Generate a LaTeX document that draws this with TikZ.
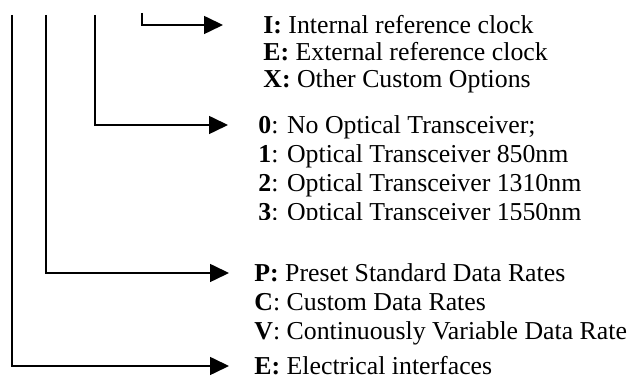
\documentclass[tikz,border=0pt]{standalone}
\usepackage{fontspec}
\setmainfont{Liberation Serif}
\usetikzlibrary{arrows.meta}

\tikzset{
  feed/.style={line width=0.8pt, -{Triangle[length=9.5pt,width=9pt]}},
  opt/.style={anchor=west, inner sep=0pt, text height=8.5pt, text depth=0pt,
              font=\fontsize{12.9}{15}\selectfont}
}

\begin{document}
\begin{tikzpicture}[x=0.5pt, y=-0.5pt]
  % Fix the size of the page
  \useasboundingbox (0,0) rectangle (636,383);

  % Define the tops of the lead lines
  \coordinate (T1) at (12,15);
  \coordinate (T2) at (46,15);
  \coordinate (T3) at (95,15);
  \coordinate (T4) at (142,13);

  % Reference clock options
  \node[opt] (clkI) at (263,25) {\textbf{I:} Internal reference clock};
  \node[opt] (clkE) at (263,52) {\textbf{E:} External reference clock};
  \node[opt] (clkX) at (263,79) {\textbf{X:} Other Custom Options};

  % Optical transceiver options (last line is cut off)
  \node[opt] (opt0) at (258,125) {\textbf{0}: No Optical Transceiver;};
  \node[opt] (opt1) at (258,154) {\textbf{1}: Optical Transceiver 850nm};
  \node[opt] (opt2) at (258,183) {\textbf{2}: Optical Transceiver 1310nm};
  \begin{scope}
    \clip (200,0) rectangle (636,220);
    \node[opt] (opt3) at (258,212) {\textbf{3}: Optical Transceiver 1550nm};
  \end{scope}

  % Data rate options
  \node[opt] (rateP) at (254,273) {\textbf{P:} Preset Standard Data Rates};
  \node[opt] (rateC) at (254,302) {\textbf{C}: Custom Data Rates};
  \node[opt] (rateV) at (254,331) {\textbf{V}: Continuously Variable Data Rate};

  % Interface option
  \node[opt] (ifE) at (254,366) {\textbf{E:} Electrical interfaces};

  % Draw the lead lines
  \draw[feed, shorten >=20pt] (T4) |- (clkI.west);
  \draw[feed, shorten >=15pt] (T3) |- (opt0.west);
  \draw[feed, shorten >=12.5pt] (T2) |- (rateP.west);
  \draw[feed, shorten >=12.5pt] (T1) |- (ifE.west);

\end{tikzpicture}
\end{document}
